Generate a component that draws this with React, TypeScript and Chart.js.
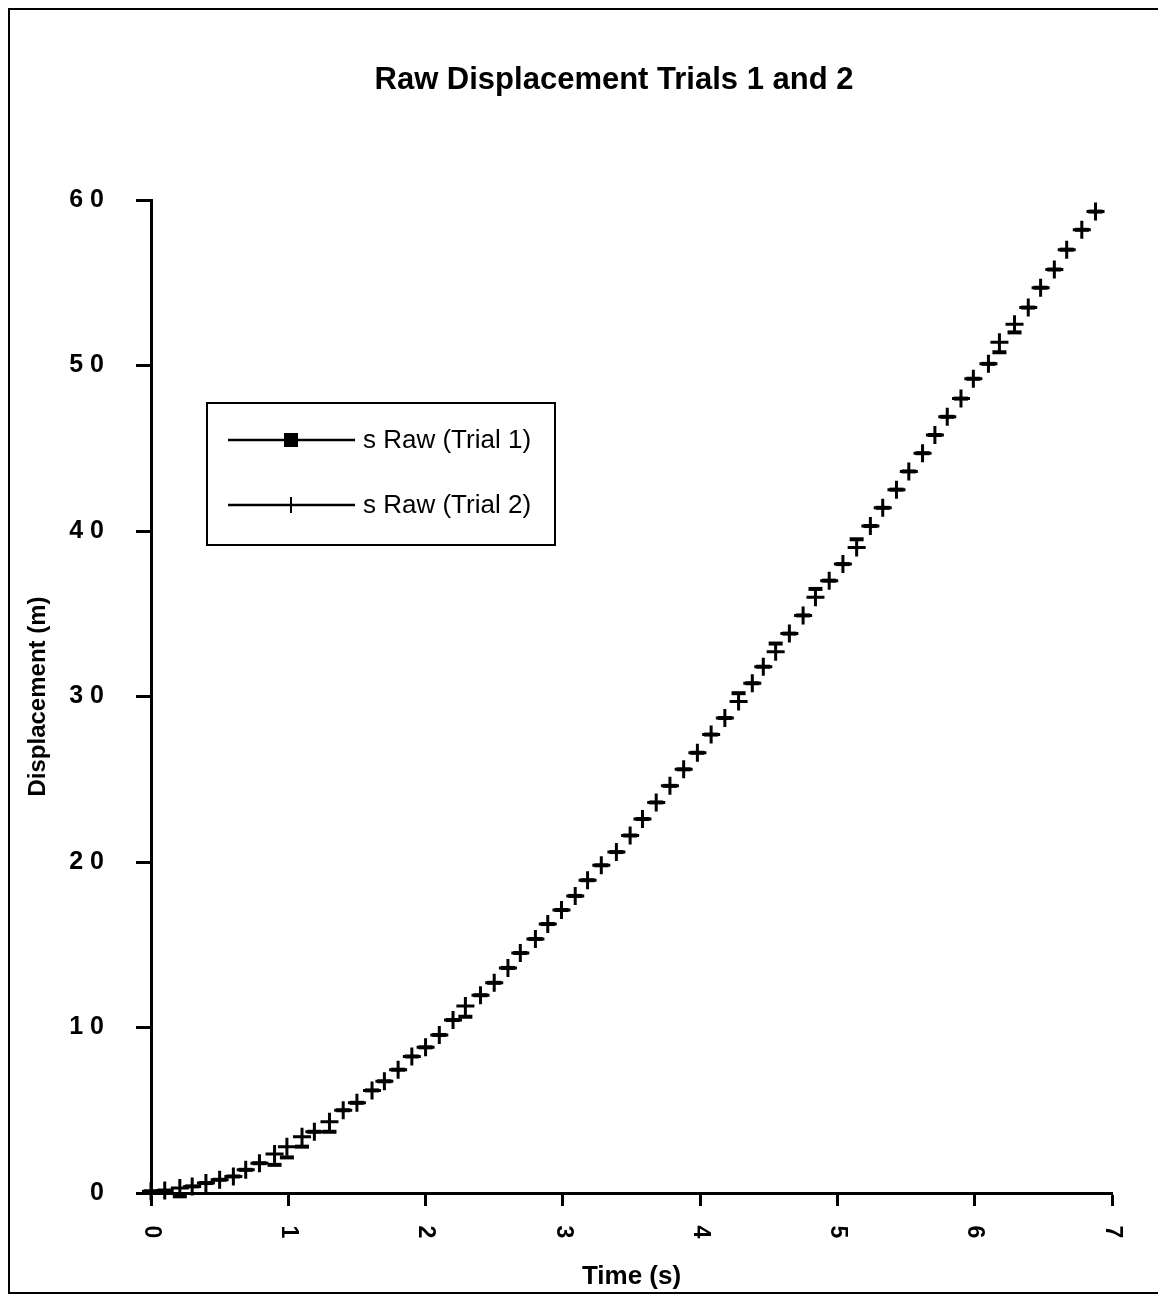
import { useEffect, useRef } from "react";
import { Chart, registerables } from "chart.js";

Chart.register(...registerables);

const chartTitle = "Raw Displacement Trials 1 and 2";
const xAxisTitle = "Time (s)";
const yAxisTitle = "Displacement (m)";
const seriesNames = ["s Raw (Trial 1)", "s Raw (Trial 2)"];

const xTickValues = [0, 1, 2, 3, 4, 5, 6, 7];
const yTickValues = [0, 10, 20, 30, 40, 50, 60];

// sample times (s)
const timeS = [
  0.0, 0.1, 0.21, 0.3, 0.4, 0.5, 0.6, 0.69, 0.79, 0.9, 0.99, 1.1, 1.19, 1.3, 1.4, 1.5,
  1.61, 1.7, 1.8, 1.9, 2.0, 2.1, 2.2, 2.29, 2.4, 2.5, 2.6, 2.69, 2.8, 2.89, 2.99, 3.09,
  3.18, 3.28, 3.39, 3.49, 3.58, 3.68, 3.78, 3.88, 3.98, 4.08, 4.18, 4.28, 4.38, 4.46,
  4.55, 4.65, 4.75, 4.84, 4.94, 5.04, 5.14, 5.24, 5.33, 5.43, 5.52, 5.62, 5.71, 5.8,
  5.9, 5.99, 6.1, 6.18, 6.29, 6.39, 6.48, 6.58, 6.67, 6.78, 6.88,
];

// raw displacement, trial 1 (m)
const trial1 = [
  0.1, 0.15, -0.2, 0.4, 0.6, 0.8, 1.0, 1.4, 1.8, 1.7, 2.15, 2.8, 3.7, 3.7, 5.0, 5.45,
  6.2, 6.75, 7.45, 8.25, 8.8, 9.55, 10.45, 10.65, 11.95, 12.7, 13.6, 14.5, 15.35, 16.25,
  17.1, 17.95, 18.9, 19.8, 20.6, 21.6, 22.6, 23.6, 24.6, 25.6, 26.6, 27.7, 28.7, 30.2,
  30.8, 31.8, 33.2, 33.8, 34.9, 36.5, 37.0, 38.0, 39.5, 40.3, 41.4, 42.5, 43.6, 44.7,
  45.8, 46.9, 48.0, 49.2, 50.1, 50.8, 52.0, 53.5, 54.7, 55.8, 57.0, 58.2, 59.3,
];

// raw displacement, trial 2 (m)
const trial2 = [
  0.1, 0.15, 0.3, 0.4, 0.6, 0.8, 1.0, 1.4, 1.8, 2.35, 2.8, 3.4, 3.7, 4.3, 5.0, 5.45,
  6.2, 6.75, 7.45, 8.25, 8.8, 9.55, 10.45, 11.3, 11.95, 12.7, 13.6, 14.5, 15.35, 16.25,
  17.1, 17.95, 18.9, 19.8, 20.6, 21.6, 22.6, 23.6, 24.6, 25.6, 26.6, 27.7, 28.7, 29.7,
  30.8, 31.8, 32.7, 33.8, 34.9, 36.0, 37.0, 38.0, 39.0, 40.3, 41.4, 42.5, 43.6, 44.7,
  45.8, 46.9, 48.0, 49.2, 50.1, 51.4, 52.5, 53.5, 54.7, 55.8, 57.0, 58.2, 59.3,
];

const FONT = '"Liberation Sans", Arial, Helvetica, sans-serif';

// chart heading, centred a little left of the plot's middle
const headingPlugin = {
  id: "heading",
  afterDraw(chart: any) {
    const { ctx, chartArea } = chart;
    ctx.save();
    ctx.fillStyle = "#000";
    ctx.font = `bold 31px ${FONT}`;
    ctx.textAlign = "center";
    ctx.textBaseline = "middle";
    ctx.fillText(chartTitle, (chartArea.left - 35 + chartArea.right) / 2, chartArea.top - 120);
    ctx.restore();
  },
};

// x tick labels, turned a quarter turn clockwise
const rotatedXTicks = {
  id: "rotatedXTicks",
  afterDraw(chart: any) {
    const { ctx } = chart;
    const xs = chart.scales.x;
    ctx.save();
    ctx.fillStyle = "#000";
    ctx.font = `bold 23px ${FONT}`;
    ctx.textAlign = "center";
    ctx.textBaseline = "middle";
    for (const v of xTickValues) {
      const px = xs.getPixelForValue(v);
      ctx.save();
      ctx.translate(px, xs.top + 39);
      ctx.rotate(Math.PI / 2);
      ctx.fillText(String(v), 0, 0);
      ctx.restore();
    }
    ctx.restore();
  },
};

// framed legend inside the plot, line + marker samples
const boxedLegend = {
  id: "boxedLegend",
  afterDraw(chart: any) {
    const { ctx, chartArea } = chart;
    const left = chartArea.left + 56;
    const top = chartArea.top + 203;
    const w = 348;
    const h = 142;
    ctx.save();
    ctx.fillStyle = "#fff";
    ctx.fillRect(left, top, w, h);
    ctx.strokeStyle = "#000";
    ctx.lineWidth = 2;
    ctx.strokeRect(left, top, w, h);
    chart.data.datasets.forEach((ds: any, i: number) => {
      const y = top + 37 + i * 65;
      ctx.strokeStyle = "#000";
      ctx.lineWidth = 2.5;
      ctx.beginPath();
      ctx.moveTo(left + 21, y);
      ctx.lineTo(left + 148, y);
      ctx.stroke();
      const mx = left + 84;
      ctx.fillStyle = "#000";
      if (i === 0) {
        ctx.fillRect(mx - 7, y - 7, 14, 14);
      } else {
        ctx.lineWidth = 2;
        ctx.beginPath();
        ctx.moveTo(mx, y - 8);
        ctx.lineTo(mx, y + 8);
        ctx.stroke();
      }
      ctx.font = `26px ${FONT}`;
      ctx.textAlign = "left";
      ctx.textBaseline = "middle";
      ctx.fillText(ds.label, left + 156, y + 1);
    });
    ctx.restore();
  },
};

export default function App() {
  const ref = useRef<HTMLCanvasElement | null>(null);

  useEffect(() => {
    if (!ref.current) return;
    const chart = new Chart(ref.current, {
      type: "scatter",
      data: {
        datasets: [
          {
            label: seriesNames[0],
            data: timeS.map((t, i) => ({ x: t, y: trial1[i] })),
            showLine: false,
            pointStyle: "line",
            pointRadius: 7,
            pointBorderWidth: 4,
            borderColor: "#000",
            backgroundColor: "#000",
            clip: false,
          },
          {
            label: seriesNames[1],
            data: timeS.map((t, i) => ({ x: t, y: trial2[i] })),
            showLine: false,
            pointStyle: "cross",
            pointRadius: 9,
            pointBorderWidth: 3,
            borderColor: "#000",
            backgroundColor: "#000",
            clip: false,
          },
        ],
      },
      options: {
        responsive: false,
        animation: false,
        events: [],
        layout: { padding: { left: 0, right: 48, top: 190, bottom: 0 } },
        plugins: {
          legend: { display: false },
          tooltip: { enabled: false },
          title: { display: false },
        },
        scales: {
          x: {
            type: "linear",
            min: 0,
            max: 7,
            afterBuildTicks: (s: any) => {
              s.ticks = xTickValues.map((v) => ({ value: v }));
            },
            grid: {
              drawOnChartArea: false,
              drawTicks: true,
              tickLength: 13,
              tickWidth: 3,
              tickColor: "#000",
              color: "#000",
            },
            border: { display: true, color: "#000", width: 3 },
            ticks: { display: false },
            title: {
              display: true,
              text: xAxisTitle,
              color: "#000",
              font: { family: FONT, size: 26, weight: "bold" },
              padding: { top: 0, bottom: 0 },
            },
            afterFit: (s: any) => {
              s.height = 99;
            },
          },
          y: {
            type: "linear",
            min: 0,
            max: 60,
            afterBuildTicks: (s: any) => {
              s.ticks = yTickValues.map((v) => ({ value: v }));
            },
            grid: {
              drawOnChartArea: false,
              drawTicks: true,
              tickLength: 15,
              tickWidth: 3,
              tickColor: "#000",
              color: "#000",
            },
            border: { display: true, color: "#000", width: 3 },
            ticks: {
              color: "#000",
              padding: 32,
              font: { family: FONT, size: 25, weight: "bold" },
              callback: (v: any) => String(v).split("").join(" "),
            },
            title: {
              display: true,
              text: yAxisTitle,
              color: "#000",
              font: { family: FONT, size: 24, weight: "bold" },
              padding: { top: 14, bottom: 0 },
            },
            afterFit: (s: any) => {
              s.width = 141;
            },
          },
        },
      },
      plugins: [headingPlugin, rotatedXTicks, boxedLegend],
    });
    return () => chart.destroy();
  }, []);

  return (
    <div
      style={{
        position: "relative",
        width: 1154,
        height: 1286,
        boxSizing: "border-box",
        border: "2px solid #000",
        background: "#fff",
      }}
    >
      <canvas ref={ref} width={1150} height={1282} style={{ display: "block" }} />
    </div>
  );
}
